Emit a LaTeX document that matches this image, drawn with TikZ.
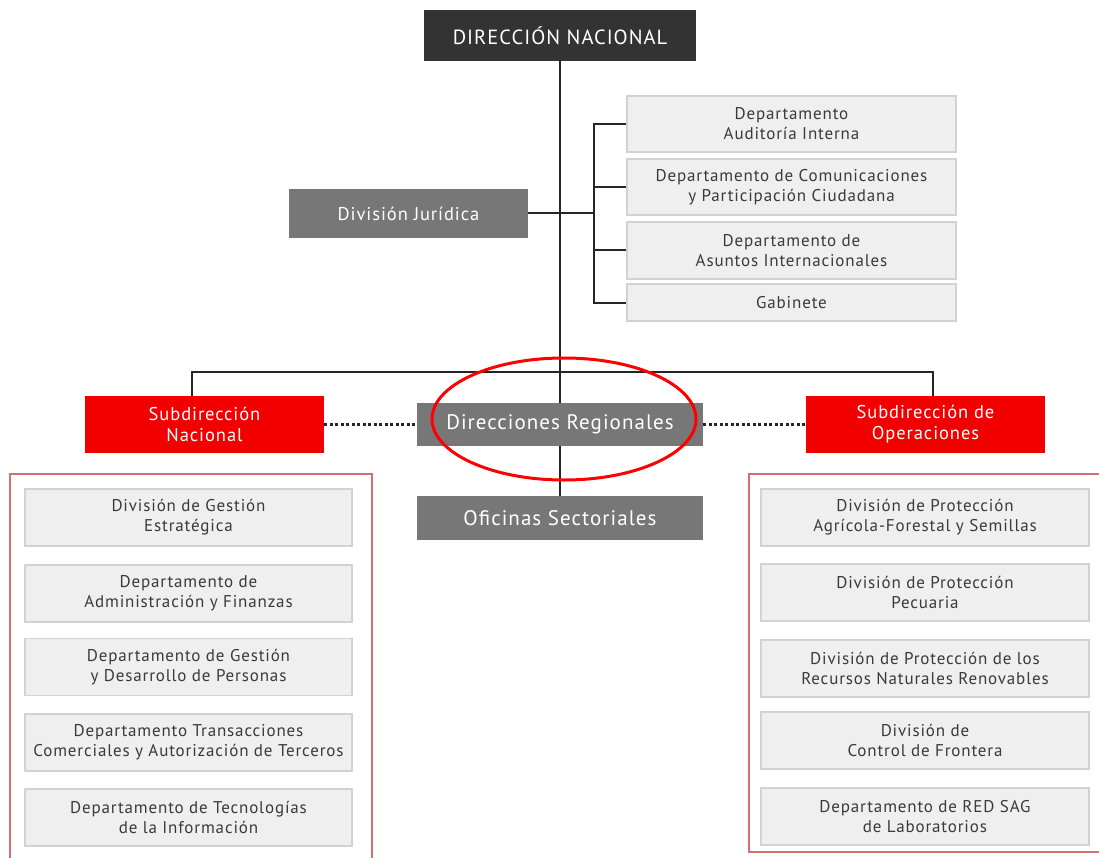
\documentclass[tikz,border=0pt]{standalone}
\usepackage{fontspec}
\setmainfont{PT Sans}[LetterSpace=5]
\usepackage{tikz}
\usepackage{xcolor}
\definecolor{headcolor}{HTML}{333333}
\definecolor{midcolor}{HTML}{777777}
\definecolor{boxfill}{HTML}{EFEFEF}
\definecolor{boxline}{HTML}{D2D2D2}
\definecolor{boxtext}{HTML}{3A3A3A}
\definecolor{subcolor}{HTML}{F20000}
\definecolor{framecolor}{HTML}{D07070}
\colorlet{linkcolor}{black!85}

\begin{document}
\begin{tikzpicture}[x=1pt,y=-1pt]
	\tikzstyle{every node}=[font=\fontsize{17}{20}\selectfont, align=center, inner sep=0pt]
	\tikzstyle{unit}=[draw=boxline, fill=boxfill, text=boxtext, line width=1.2, minimum width=328, minimum height=57]
	\tikzstyle{darkbox}=[fill=midcolor, text=white, minimum width=286]
	\tikzstyle{redbox}=[fill=subcolor, text=white, font=\fontsize{18.5}{21}\selectfont, minimum width=239, minimum height=57]
	\tikzstyle{link}=[linkcolor, line width=2]
	\tikzstyle{dotlink}=[linkcolor, line width=2.2, dash pattern=on 3 off 2.5]
	\useasboundingbox (0,0) rectangle (1099,858);
	% top level
	\node (dirnac) [fill=headcolor, text=white, font=\fontsize{20.5}{24}\selectfont, minimum width=272, minimum height=51] at (560,35.5) {DIRECCIÓN NACIONAL};
	\node (divjur) [darkbox, font=\fontsize{18.5}{21}\selectfont, minimum width=239, minimum height=49] at (408.5,213.5) {División Jurídica};
	% staff departments
	\node (dep1) [unit, minimum width=329, minimum height=56] at (791.5,124) {Departamento\\Auditoría Interna};
	\node (dep2) [unit, minimum width=329, minimum height=56] at (791.5,187) {Departamento de Comunicaciones\\y Participación Ciudadana};
	\node (dep3) [unit, minimum width=329, minimum height=57] at (791.5,250.5) {Departamento de\\Asuntos Internacionales};
	\node (dep4) [unit, minimum width=329, minimum height=37] at (791.5,302.5) {Gabinete};
	% middle row
	\node (subnac) [redbox] at (204.5,424.5) {Subdirección\\Nacional};
	\node (subop) [redbox] at (925.5,424.5) {Subdirección de\\Operaciones};
	\node (dirreg) [darkbox, font=\fontsize{21}{24}\selectfont, minimum height=43] at (560,424.5) {Direcciones Regionales};
	\node (ofsec) [darkbox, font=\fontsize{21}{24}\selectfont, minimum height=44] at (560,518) {Oficinas Sectoriales};
	% Subdireccion Nacional units
	\node (gn1) [unit, minimum width=327] at (188.5,517.5) {División de Gestión\\Estratégica};
	\node (gn2) [unit, minimum width=327] at (188.5,593.5) {Departamento de\\Administración y Finanzas};
	\node (gn3) [unit, minimum width=327] at (188.5,667) {Departamento de Gestión\\y Desarrollo de Personas};
	\node (gn4) [unit, minimum width=327] at (188.5,742.5) {Departamento Transacciones\\Comerciales y Autorización de Terceros};
	\node (gn5) [unit, minimum width=327] at (188.5,817.5) {Departamento de Tecnologías\\de la Información};
	% Subdireccion de Operaciones units
	\node (op1) [unit] at (925,517.5) {División de Protección\\Agrícola-Forestal y Semillas};
	\node (op2) [unit] at (925,592.5) {División de Protección\\Pecuaria};
	\node (op3) [unit] at (925,668.5) {División de Protección de los\\Recursos Naturales Renovables};
	\node (op4) [unit] at (925,740.5) {División de\\Control de Frontera};
	\node (op5) [unit] at (925,816.5) {Departamento de RED SAG\\de Laboratorios};
	% frames
	\draw [framecolor, line width=2] (10,870) -- (10,474) -- (372,474) -- (372,870);
	\draw [framecolor, line width=2] (1110,852) -- (749,852) -- (749,474) -- (1110,474);
	% connectors
	\coordinate (brk) at (594,124);
	\coordinate (busl) at (192,372);
	\coordinate (busr) at (933,372);
	\draw [link] (dirnac.south) -- (dirreg.north);
	\draw [link] (dirreg.south) -- (ofsec.north);
	\draw [link] (divjur.east) -- (divjur.east -| brk);
	\draw [link] (dep1.west) -- (brk) |- (dep4.west);
	\draw [link] (dep2.west) -- (dep2.west -| brk);
	\draw [link] (dep3.west) -- (dep3.west -| brk);
	\draw [link] (subnac.north -| busl) -- (busl) -- (busr) -- (subop.north -| busr);
	\draw [dotlink] (subnac.east) -- (dirreg.west);
	\draw [dotlink] (dirreg.east) -- (subop.west);
	% highlight
	\draw [red, line width=3] (dirreg.center) ++(4,-5.5) ellipse [x radius=132, y radius=61];
\end{tikzpicture}
\end{document}
